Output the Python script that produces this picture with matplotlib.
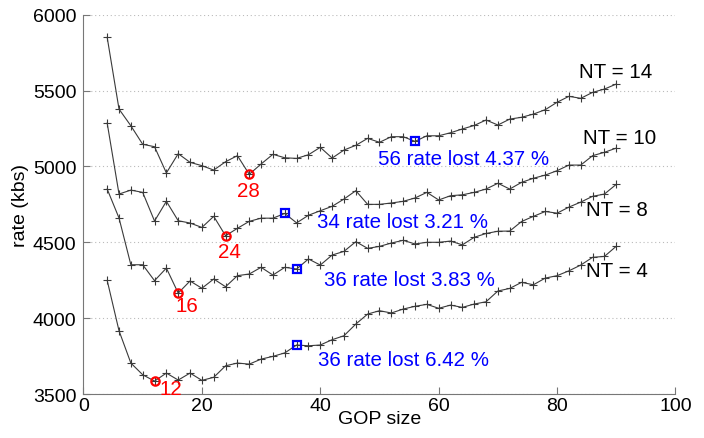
import matplotlib
matplotlib.use("Agg")
import matplotlib.pyplot as plt

plt.rcParams['font.family'] = ['Liberation Sans', 'DejaVu Sans']

# GOP sizes evaluated
gop_size = list(range(4, 92, 2))

# rate (kbs) per GOP size for each NT
rate_nt14 = [5851, 5378, 5268, 5146, 5130, 4957, 5084, 5027, 5005, 4976,
             5031, 5071, 4948, 5016, 5080, 5057, 5053, 5077, 5126, 5055,
             5108, 5139, 5185, 5159, 5196, 5196, 5165, 5202, 5202, 5222,
             5247, 5270, 5306, 5273, 5312, 5324, 5345, 5374, 5423, 5462,
             5449, 5488, 5510, 5543]
rate_nt10 = [5286, 4818, 4844, 4829, 4640, 4770, 4642, 4627, 4598, 4671,
             4543, 4592, 4638, 4659, 4659, 4690, 4628, 4678, 4708, 4737,
             4785, 4840, 4750, 4750, 4759, 4770, 4792, 4829, 4779, 4807,
             4813, 4829, 4851, 4889, 4851, 4895, 4922, 4943, 4972, 5009,
             5009, 5071, 5093, 5121]
rate_nt8 = [4851, 4660, 4352, 4352, 4247, 4330, 4165, 4245, 4197, 4258,
            4207, 4280, 4291, 4335, 4284, 4335, 4324, 4390, 4350, 4416,
            4440, 4504, 4460, 4473, 4495, 4513, 4489, 4500, 4500, 4508,
            4483, 4533, 4558, 4573, 4574, 4637, 4671, 4703, 4692, 4732,
            4765, 4803, 4818, 4882]
rate_nt4 = [4249, 3917, 3704, 3627, 3585, 3638, 3592, 3638, 3590, 3610,
            3686, 3704, 3697, 3730, 3748, 3771, 3823, 3818, 3823, 3858,
            3884, 3961, 4027, 4049, 4034, 4060, 4078, 4091, 4065, 4086,
            4071, 4093, 4108, 4179, 4196, 4236, 4220, 4264, 4280, 4312,
            4350, 4401, 4407, 4474]

nt_values = [14, 10, 8, 4]
series = [rate_nt14, rate_nt10, rate_nt8, rate_nt4]
best_gop = [28, 24, 16, 12]          # GOP size with minimum rate
chosen_gop = [56, 34, 36, 36]        # GOP size of the chosen operating point
rate_lost = [4.37, 3.21, 3.83, 6.42]  # rate lost (%) at the chosen GOP

x_ticks = [0, 20, 40, 60, 80, 100]
y_ticks = [3500, 4000, 4500, 5000, 5500, 6000]

# text placement (data coordinates)
best_label_pos = [(27.8, 4807), (24.7, 4403), (17.4, 4045), (14.7, 3503)]
lost_label_pos = [(49.7, 5016), (39.4, 4599), (40.6, 4218), (39.6, 3693)]
nt_label_pos = [(83.75, 5587), (84.4, 5154), (84.8, 4682), (84.9, 4280)]

fig = plt.figure(figsize=(7.04, 4.39), dpi=100)
ax = fig.add_axes([0.1186, 0.1002, 0.8409, 0.864])

fs_tick = 14
fs_text = 14.8

for nt, rates, bg, cg, lost, bpos, lpos, npos in zip(
        nt_values, series, best_gop, chosen_gop, rate_lost,
        best_label_pos, lost_label_pos, nt_label_pos):
    ax.plot(gop_size, rates, color='#3a3a3a', lw=0.8, marker='+',
            ms=6, mew=0.8, zorder=3)
    bi = gop_size.index(bg)
    ax.plot([bg], [rates[bi]], 'o', mfc='none', mec='red', ms=6,
            mew=1.6, zorder=4)
    ci = gop_size.index(cg)
    ax.plot([cg], [rates[ci]], 's', mfc='none', mec='blue', ms=5.5,
            mew=1.6, zorder=4)
    ax.text(bpos[0], bpos[1], f"{bg}", color='red', fontsize=fs_text,
            ha='center', va='baseline')
    ax.text(lpos[0], lpos[1], f"{cg} rate lost {lost:.2f} %", color='blue',
            fontsize=fs_text, ha='left', va='baseline')
    ax.text(npos[0], npos[1], f"NT = {nt}", color='black',
            fontsize=fs_text, ha='left', va='baseline')

ax.set_xlim(0, 100)
ax.set_ylim(3500, 6000)
ax.set_xticks(x_ticks)
ax.set_yticks(y_ticks)
ax.tick_params(direction='in', length=5, width=0.8, colors='#777777',
               labelcolor='black', labelsize=fs_tick)
ax.tick_params(axis='x', pad=2)
ax.tick_params(axis='y', pad=5)
for side in ('top', 'right'):
    ax.spines[side].set_visible(False)
for side in ('left', 'bottom'):
    ax.spines[side].set_color('#777777')
    ax.spines[side].set_linewidth(0.8)
ax.yaxis.grid(True, linestyle=(0, (1, 2.5)), color='#bbbbbb', lw=0.8)
ax.set_axisbelow(True)

ax.set_xlabel('GOP size', fontsize=fs_tick, labelpad=-3)
ax.set_ylabel('rate (kbs)', fontsize=fs_tick, labelpad=3)

fig.savefig('out.png', dpi=100)
